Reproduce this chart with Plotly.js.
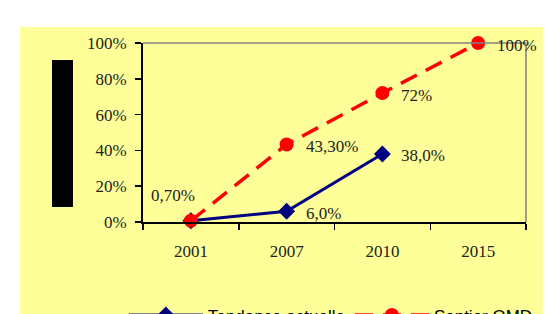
<!DOCTYPE html>
<html>
<head>
<meta charset="utf-8">
<script src="https://cdn.plot.ly/plotly-3.0.1.min.js"></script>
<style>html,body{margin:0;padding:0;background:#fff;}#chart{width:559px;height:314px;}</style>
</head>
<body>
<div id="chart"></div>
<script>
var years = ['2001', '2007', '2010', '2015'];
var trendYears = ['2001', '2007', '2010'];
var trendValues = [0.007, 0.06, 0.38];
var trendLabels = ['', '6,0%', '38,0%'];
var omdYears = ['2001', '2007', '2010', '2015'];
var omdValues = [0.007, 0.433, 0.72, 1.0];
var omdLabels = ['0,70%', '43,30%', '72%', '100%'];
var seriesNames = ['Tendance actuelle', 'Sentier OMD'];

var serif = 'Liberation Serif';
var labelFont = {family: serif, size: 17, color: '#222222'};

var traces = [
  {
    x: trendYears, y: trendValues, name: seriesNames[0],
    type: 'scatter', mode: 'lines+markers',
    line: {color: '#000080', width: 3},
    marker: {symbol: 'diamond', size: 13, color: '#000080'},
    cliponaxis: false
  },
  {
    x: omdYears, y: omdValues, name: seriesNames[1],
    type: 'scatter', mode: 'lines+markers',
    line: {color: '#FF0000', width: 3.5, dash: '18px,10px'},
    marker: {symbol: 'circle', size: 14, color: '#FF0000'},
    cliponaxis: false
  }
];

// data labels, placed through the axes' own scales (category index)
var annotations = [];
function addLabels(xs, ys, labels) {
  for (var i = 0; i < xs.length; i++) {
    if (!labels[i]) continue;
    var first = (i === 0);
    annotations.push({
      x: years.indexOf(xs[i]), y: ys[i], xref: 'x', yref: 'y',
      text: labels[i], showarrow: false,
      font: labelFont,
      xanchor: first ? 'center' : 'left',
      yanchor: 'middle',
      xshift: first ? -18 : 17,
      yshift: first ? 25 : -2
    });
  }
}
addLabels(trendYears, trendValues, trendLabels);
addLabels(omdYears, omdValues, omdLabels);

var yellow = '#FFFF99';
var layout = {
  width: 559, height: 314,
  margin: {l: 143, r: 33, t: 43, b: 92, autoexpand: false},
  paper_bgcolor: '#ffffff',
  plot_bgcolor: yellow,
  showlegend: true,
  legend: {
    orientation: 'h', x: -0.05, xanchor: 'left', y: -0.522, yanchor: 'middle',
    font: {family: 'Liberation Sans', size: 17, color: '#000'},
    bgcolor: 'rgba(0,0,0,0)', itemwidth: 74
  },
  annotations: annotations,
  xaxis: {
    type: 'category', categoryorder: 'array', categoryarray: years,
    range: [-0.5, 3.5],
    showline: true, linecolor: '#000', linewidth: 2,
    ticks: 'outside', tickson: 'boundaries', ticklen: 6, tickcolor: '#000', tickwidth: 1.5,
    ticklabelstandoff: 13,
    showgrid: false, zeroline: false,
    tickfont: {family: serif, size: 17, color: '#222'}
  },
  yaxis: {
    range: [0, 1], dtick: 0.2, tickformat: '.0%',
    showline: true, linecolor: '#000', linewidth: 2,
    ticks: 'outside', ticklen: 6, tickcolor: '#000', tickwidth: 1.5,
    ticklabelstandoff: 5,
    showgrid: false, zeroline: false,
    tickfont: {family: serif, size: 17, color: '#222'}
  },
  shapes: [
    {type: 'rect', xref: 'paper', yref: 'paper', x0: -0.321, x1: 1.044, y0: -0.6, y1: 1.089,
     fillcolor: yellow, line: {width: 0}, layer: 'below'},
    {type: 'line', xref: 'paper', yref: 'paper', x0: 0, x1: 1, y0: 1, y1: 1,
     line: {color: '#808080', width: 1.5}},
    {type: 'line', xref: 'paper', yref: 'paper', x0: 1, x1: 1, y0: 0, y1: 1,
     line: {color: '#808080', width: 1.5}},
    {type: 'rect', xref: 'paper', yref: 'paper', x0: -0.2376, x1: -0.1828, y0: 0.0838, y1: 0.905,
     fillcolor: '#000', line: {width: 0}}
  ]
};

Plotly.newPlot('chart', traces, layout, {displayModeBar: false, staticPlot: true});
</script>
</body>
</html>
